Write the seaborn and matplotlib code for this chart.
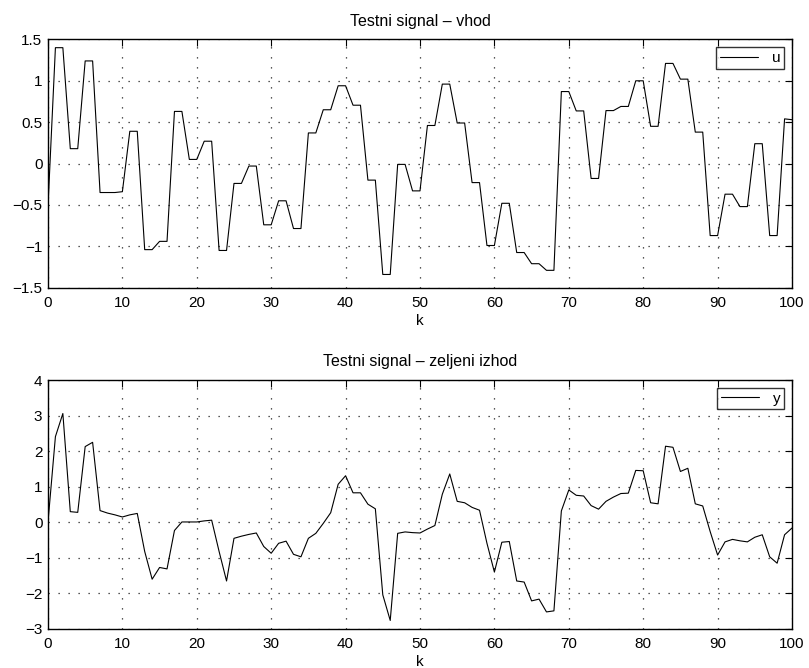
import numpy as np
import pandas as pd
import seaborn as sns
import matplotlib
matplotlib.use("Agg")
import matplotlib.pyplot as plt

# Sample index
k = list(range(0, 101))

# Test input signal u(k)
u = [-0.52,
     1.40, 1.40, 0.18, 0.18, 1.24, 1.24, -0.35, -0.35, -0.35, -0.34,
     0.39, 0.39, -1.04, -1.04, -0.94, -0.94, 0.63, 0.63, 0.05, 0.05,
     0.27, 0.27, -1.05, -1.05, -0.24, -0.24, -0.03, -0.03, -0.74, -0.74,
     -0.45, -0.45, -0.785, -0.785, 0.37, 0.37, 0.65, 0.65, 0.94, 0.94,
     0.705, 0.705, -0.20, -0.20, -1.34, -1.34, -0.01, -0.01, -0.33, -0.33,
     0.46, 0.46, 0.96, 0.96, 0.49, 0.49, -0.23, -0.23, -0.99, -0.99,
     -0.48, -0.48, -1.075, -1.075, -1.21, -1.21, -1.29, -1.29, 0.87, 0.87,
     0.636, 0.636, -0.18, -0.18, 0.64, 0.64, 0.69, 0.69, 1.00, 1.00,
     0.45, 0.45, 1.21, 1.21, 1.02, 1.02, 0.38, 0.38, -0.87, -0.87,
     -0.37, -0.37, -0.52, -0.52, 0.24, 0.24, -0.87, -0.87, 0.54, 0.53]

# Desired output y(k)
y = [0.0,
     2.41, 3.06, 0.30, 0.28, 2.13, 2.25, 0.33, 0.26, 0.21, 0.15,
     0.21, 0.25, -0.82, -1.60, -1.27, -1.31, -0.23, 0.01, 0.01, 0.01,
     0.04, 0.06, -0.82, -1.65, -0.45, -0.39, -0.34, -0.30, -0.68, -0.87,
     -0.59, -0.53, -0.90, -0.97, -0.45, -0.31, -0.03, 0.27, 1.07, 1.31,
     0.83, 0.83, 0.51, 0.38, -2.04, -2.76, -0.31, -0.27, -0.29, -0.30,
     -0.19, -0.09, 0.79, 1.36, 0.59, 0.55, 0.42, 0.34, -0.59, -1.40,
     -0.56, -0.54, -1.65, -1.68, -2.21, -2.16, -2.52, -2.49, 0.32, 0.91,
     0.76, 0.74, 0.47, 0.37, 0.59, 0.71, 0.81, 0.82, 1.46, 1.45,
     0.55, 0.52, 2.14, 2.11, 1.43, 1.52, 0.52, 0.46, -0.26, -0.92,
     -0.55, -0.48, -0.52, -0.55, -0.42, -0.35, -0.97, -1.15, -0.35, -0.16]

x_ticks = list(range(0, 101, 10))
u_ticks = [-1.5, -1, -0.5, 0, 0.5, 1, 1.5]
u_tick_labels = ["\u22121.5", "\u22121", "\u22120.5", "0", "0.5", "1", "1.5"]
y_ticks = [-3, -2, -1, 0, 1, 2, 3, 4]
y_tick_labels = ["\u22123", "\u22122", "\u22121", "0", "1", "2", "3", "4"]

df = pd.DataFrame({"k": k, "u": u, "y": y})

sns.set_theme(style="white")
plt.rcParams["font.family"] = ["Liberation Sans", "DejaVu Sans"]
plt.rcParams["axes.unicode_minus"] = True
plt.rcParams["text.color"] = "black"
plt.rcParams["axes.labelcolor"] = "black"
plt.rcParams["xtick.color"] = "black"
plt.rcParams["ytick.color"] = "black"

fig = plt.figure(figsize=(8.09, 6.68), dpi=100)
ax1 = fig.add_axes([0.0593, 0.5693, 0.9197, 0.3717])
ax2 = fig.add_axes([0.0593, 0.0584, 0.9197, 0.3726])


def style_axes(ax, yticks, ylabels, ylim, title):
    ax.set_xlim(0, 100)
    ax.set_ylim(*ylim)
    ax.set_xticks(x_ticks)
    ax.set_xticklabels([str(t) for t in x_ticks], fontsize=11)
    ax.set_yticks(yticks)
    ax.set_yticklabels(ylabels, fontsize=11)
    ax.grid(True, color="#222222", linestyle=(0, (1, 7)), linewidth=0.9)
    ax.tick_params(direction="in", top=True, right=True, length=5,
                   width=0.8, colors="black", labelcolor="black")
    ax.tick_params(axis="x", pad=6)
    ax.tick_params(axis="y", pad=4)
    for s in ax.spines.values():
        s.set_color("black")
        s.set_linewidth(1.0)
    ax.set_xlabel("k", fontsize=11, labelpad=3, color="black")
    ax.set_ylabel("")
    ax.set_title(title, fontsize=11.5, pad=10, color="black")
    leg = ax.legend(loc="upper right", fontsize=11, frameon=True,
                    fancybox=False, edgecolor="black", handlelength=2.5,
                    borderpad=0.25, handletextpad=0.9, borderaxespad=0.5)
    leg.get_frame().set_linewidth(1.0)
    for t in leg.get_texts():
        t.set_color("black")


sns.lineplot(data=df, x="k", y="u", ax=ax1, color="black", linewidth=0.8,
             label="u")
style_axes(ax1, u_ticks, u_tick_labels, (-1.5, 1.5), "Testni signal \u2013 vhod")

sns.lineplot(data=df, x="k", y="y", ax=ax2, color="black", linewidth=0.8,
             label="y")
style_axes(ax2, y_ticks, y_tick_labels, (-3, 4),
           "Testni signal \u2013 zeljeni izhod")

fig.savefig("out.png", dpi=100)
